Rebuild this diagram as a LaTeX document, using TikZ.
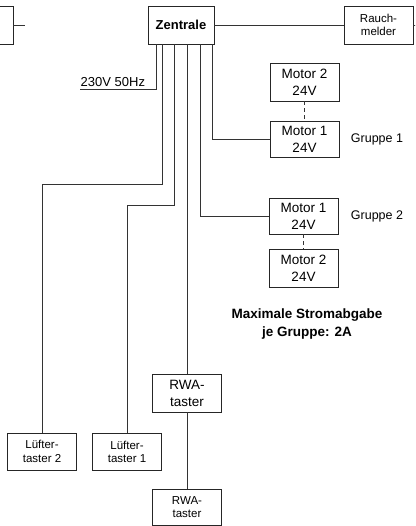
\documentclass[tikz,border=0pt]{standalone}
\usepackage{fontspec}
\setmainfont{Liberation Sans}

\tikzset{
  geraet/.style={draw=black!85, line width=0.9pt, minimum width=69pt, minimum height=37pt,
    inner sep=0pt, align=center, font=\fontsize{13.5}{17}\selectfont},
  klein/.style={geraet, font=\fontsize{11.5}{13.5}\selectfont},
  leitung/.style={draw=black!80, line width=0.9pt},
  funk/.style={leitung, dash pattern=on 4pt off 3pt},
  beschriftung/.style={inner sep=0pt, font=\fontsize{12.5}{16}\selectfont},
}

\begin{document}
\begin{tikzpicture}[x=1pt, y=-1pt]
  \useasboundingbox (0,0) rectangle (415,526);
  \clip (0,0) rectangle (415,526);

  % Zentrale und obere Reihe
  \node[geraet, font=\bfseries\fontsize{13}{16}\selectfont, minimum width=66pt, minimum height=38pt] (zentrale) at (181,25) {Zentrale};
  \node[geraet, minimum height=38pt] (links) at (-21.5,25) {};
  \node[klein, minimum height=38pt] (rauchmelder) at (378.5,25) {Rauch-\\melder};

  % Motoren
  \node[geraet, minimum height=38pt] (motorAzwei) at (304.5,82) {Motor 2\\24V};
  \node[geraet, minimum height=36pt] (motorAeins) at (304.5,139) {Motor 1\\24V};
  \node[geraet, minimum height=36pt] (motorBeins) at (303.5,216) {Motor 1\\24V};
  \node[geraet, minimum height=38pt] (motorBzwei) at (303.5,268) {Motor 2\\24V};
  \node[beschriftung] (gruppeA) at (377,139) {Gruppe 1};
  \node[beschriftung] (gruppeB) at (377,216) {Gruppe 2};
  \node[beschriftung, align=center, font=\bfseries\fontsize{13.5}{17.5}\selectfont] (hinweis) at (307,324) {Maximale Stromabgabe\\je Gruppe: 2A};

  % Taster
  \node[geraet, minimum height=38pt] (rwaA) at (187,393) {RWA-\\taster};
  \node[klein, minimum height=36pt] (rwaB) at (187,507) {RWA-\\taster};
  \node[klein] (luefterB) at (42,451.5) {Lüfter-\\taster 2};
  \node[klein] (luefterA) at (127,452) {Lüfter-\\taster 1};

  % Netz
  \coordinate (netz) at (80,89.3);
  \draw[leitung] ([xshift=-25pt]zentrale.south) |- (netz);
  \node[anchor=south west, inner xsep=0.5pt, inner ysep=2.5pt, font=\fontsize{13}{16}\selectfont] (netzlabel) at (netz) {230V 50Hz};

  % Leitungen
  \draw[leitung] (links.east) -- ++(12,0) coordinate (linksende);
  \draw[leitung] (zentrale) -- (rauchmelder);
  \draw[leitung] (rauchmelder.east) -- ++(6,0) coordinate (rauchende);
  \draw[leitung] ([xshift=-19pt]zentrale.south) -- ++(0,140) -| (luefterB.north);
  \draw[leitung] ([xshift=-7pt]zentrale.south) -- ++(0,161) -| (luefterA.north);
  \draw[leitung] ([xshift=6pt]zentrale.south) -- (rwaA.north);
  \draw[leitung] (rwaA) -- (rwaB);
  \draw[leitung] ([xshift=19pt]zentrale.south) |- (motorBeins.west);
  \draw[leitung] ([xshift=31pt]zentrale.south) |- (motorAeins.west);
  \draw[funk] (motorAzwei) -- (motorAeins);
  \draw[funk] (motorBeins) -- (motorBzwei);
\end{tikzpicture}
\end{document}
